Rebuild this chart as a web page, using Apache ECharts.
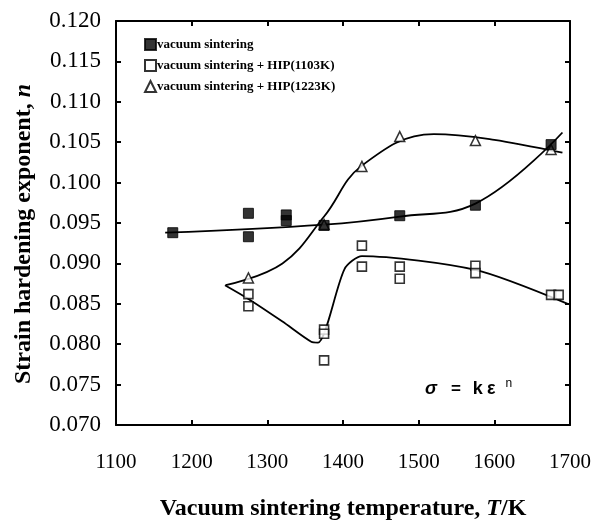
<!DOCTYPE html>
<html>
<head>
<meta charset="utf-8">
<script src="https://cdn.jsdelivr.net/npm/echarts@6/dist/echarts.min.js"></script>
<style>
  html, body { margin: 0; padding: 0; background: #fff; }
  #chart { width: 595px; height: 524px; }
</style>
</head>
<body>
<div id="chart"></div>
<script>
// Measured points: [temperature (K), strain hardening exponent n]
const vacuumSintering = [
  [1175, 0.0938], [1275, 0.0962], [1275, 0.0933], [1325, 0.0960], [1325, 0.0953],
  [1375, 0.0947], [1475, 0.0959], [1575, 0.0972], [1675, 0.1047]
];
const hip1103 = [
  [1275, 0.0862], [1275, 0.0847], [1375, 0.0818], [1375, 0.0813], [1375, 0.0780],
  [1425, 0.0922], [1425, 0.0896], [1475, 0.0896], [1475, 0.0881],
  [1575, 0.0897], [1575, 0.0888], [1675, 0.0861], [1685, 0.0861]
];
const hip1223 = [
  [1275, 0.0882], [1375, 0.0948], [1425, 0.1020], [1475, 0.1057], [1575, 0.1052], [1675, 0.1041]
];

// Hand-drawn trend curves through each data set
const fitVacuum = [
  [1165, 0.0938], [1375, 0.0948], [1475, 0.0958], [1575, 0.0974], [1690, 0.1062]
];
const fitHip1223 = [
  [1245, 0.0873], [1320, 0.0900], [1375, 0.0958], [1425, 0.1021],
  [1520, 0.1060], [1600, 0.1053], [1690, 0.1037]
];
const fitHip1103 = [
  [1244, 0.0873], [1275, 0.0856], [1320, 0.0828], [1358, 0.0803], [1367, 0.0802],
  [1402, 0.0893], [1425, 0.0909], [1575, 0.0892], [1697, 0.0850]
];

const seriesNames = ['vacuum sintering', 'vacuum sintering + HIP(1103K)', 'vacuum sintering + HIP(1223K)'];

const serif = 'Liberation Serif';
const sans = 'Liberation Sans';
const chart = echarts.init(document.getElementById('chart'), null, { renderer: 'canvas' });

function fitLine(data, smooth) {
  return {
    type: 'line', data: data, showSymbol: false, symbol: 'none',
    smooth: smooth, silent: true, z: 1,
    lineStyle: { color: '#000', width: 1.8 }
  };
}

const frameLine = { show: true, lineStyle: { color: '#000', width: 2 } };
const innerTick = { show: true, inside: true, length: 5, lineStyle: { color: '#000', width: 2 } };
const titleRich = size => ({
  b: { fontFamily: serif, fontWeight: 'bold', fontSize: size, color: '#000' },
  i: { fontFamily: serif, fontWeight: 'bold', fontStyle: 'italic', fontSize: size, color: '#000' }
});

chart.setOption({
  animation: false,
  backgroundColor: '#fff',
  grid: { left: 116, right: 25, top: 21, bottom: 99, outerBoundsMode: 'none', containLabel: false },
  legend: {
    data: seriesNames,
    orient: 'vertical',
    left: 139, top: 33,
    itemWidth: 11, itemHeight: 11, itemGap: 8,
    textStyle: { fontFamily: serif, fontWeight: 'bold', fontSize: 13, color: '#000', padding: [0, 0, 0, -4] },
    selectedMode: false
  },
  xAxis: [{
    type: 'value', min: 1100, max: 1700, interval: 100,
    position: 'bottom',
    axisLine: frameLine,
    axisTick: innerTick,
    splitLine: { show: false },
    axisLabel: {
      margin: 27, fontFamily: serif, fontSize: 21, color: '#000',
      showMinLabel: true, showMaxLabel: true,
      formatter: v => String(v)
    },
    name: '{b|Vacuum sintering temperature, }{i|T}{b|/K}',
    nameLocation: 'middle', nameGap: 72,
    nameTextStyle: { rich: titleRich(24) }
  }, {
    type: 'value', min: 1100, max: 1700, interval: 100,
    position: 'top',
    axisLine: frameLine,
    axisTick: innerTick,
    splitLine: { show: false },
    axisLabel: { show: false }
  }],
  yAxis: [{
    type: 'value', min: 0.070, max: 0.120, interval: 0.005,
    position: 'left',
    axisLine: frameLine,
    axisTick: innerTick,
    splitLine: { show: false },
    axisLabel: {
      margin: 15, fontFamily: serif, fontSize: 23, color: '#000',
      formatter: v => v.toFixed(3)
    },
    name: '{b|Strain hardening exponent, }{i|n}',
    nameLocation: 'middle', nameGap: 80, nameRotate: 90,
    nameTextStyle: { rich: titleRich(24), padding: [0, 22, 0, 0] }
  }, {
    type: 'value', min: 0.070, max: 0.120, interval: 0.005,
    position: 'right',
    axisLine: frameLine,
    axisTick: innerTick,
    splitLine: { show: false },
    axisLabel: { show: false }
  }],
  graphic: [{
    type: 'text', left: 425, top: 378, z: 10,
    style: {
      text: '{s|σ}{t|=}{k|k}{e|ε}{sup|n}',
      rich: {
        s: { fontFamily: sans, fontStyle: 'italic', fontWeight: 'bold', fontSize: 18, color: '#000', padding: [0, 14, 0, 0] },
        t: { fontFamily: sans, fontWeight: 'bold', fontSize: 17, color: '#000', padding: [0, 12, 0, 0] },
        k: { fontFamily: sans, fontWeight: 'bold', fontSize: 18, color: '#000', padding: [0, 4, 0, 0] },
        e: { fontFamily: sans, fontWeight: 'bold', fontSize: 18, color: '#000' },
        sup: { fontFamily: sans, fontSize: 12, color: '#000', verticalAlign: 'top', padding: [0, 0, 10, 10] }
      }
    }
  }],
  series: [
    fitLine(fitVacuum, 0.4),
    fitLine(fitHip1223, 0.4),
    fitLine(fitHip1103, 0.25),
    {
      name: seriesNames[0], type: 'scatter', data: vacuumSintering,
      symbol: 'rect', symbolSize: 10, z: 3,
      itemStyle: { color: '#000', borderColor: '#000', borderWidth: 1 }
    },
    {
      name: seriesNames[1], type: 'scatter', data: hip1103,
      symbol: 'rect', symbolSize: 9, z: 3,
      itemStyle: { color: '#fff', borderColor: '#000', borderWidth: 1.6 }
    },
    {
      name: seriesNames[2], type: 'scatter', data: hip1223,
      symbol: 'triangle', symbolSize: 10, z: 2,
      itemStyle: { color: '#fff', borderColor: '#000', borderWidth: 1.5 }
    }
  ]
});
</script>
</body>
</html>
